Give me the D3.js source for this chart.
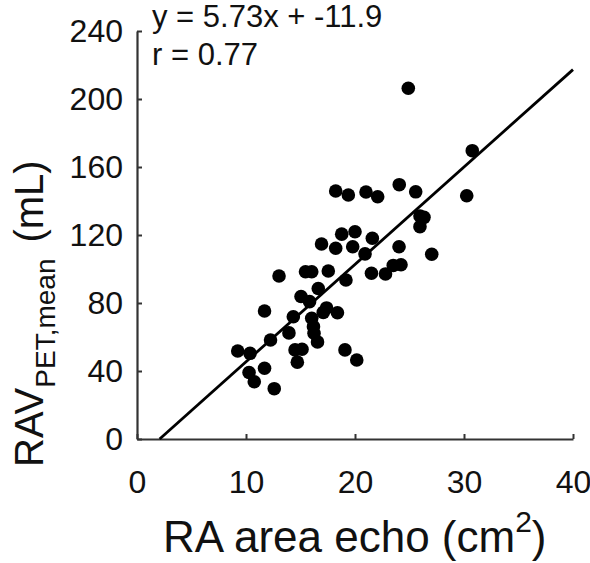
<!DOCTYPE html>
<html><head><meta charset="utf-8">
<script src="https://cdn.jsdelivr.net/npm/d3@7"></script>
<style>
html,body{margin:0;padding:0;background:#fff;}
text{font-family:"Liberation Sans",Arial,Helvetica,sans-serif;fill:#111;}
</style></head>
<body>
<svg id="c" width="590" height="563"></svg>
<script>
const xTicks = [0, 10, 20, 30, 40];
const yTicks = [0, 40, 80, 120, 160, 200, 240];
const raArea = [9.24,10.37,10.28,10.76,11.70,12.59,11.70,12.25,13.03,13.94,14.34,14.50,15.14,14.71,15.05,15.83,15.46,16.03,16.63,16.03,16.19,16.24,16.56,17.09,17.39,17.55,18.39,19.17,19.08,20.16,16.93,18.23,19.79,20.92,18.78,20.00,21.59,21.51,22.80,23.51,24.22,24.04,27.04,18.23,19.39,21.01,22.08,24.06,25.57,25.96,26.33,25.96,30.25,30.76,24.89];
const ravPet = [51.8,50.4,39.1,33.7,41.6,29.6,75.3,58.2,95.9,62.4,71.9,52.4,52.8,45.2,83.8,80.8,98.4,98.4,88.5,71.0,66.1,62.2,57.1,74.5,77.1,98.8,74.3,93.5,52.4,46.5,114.7,112.2,113.1,108.9,120.5,121.9,118.1,97.5,97.1,102.1,102.5,113.1,108.7,145.9,143.5,145.3,142.5,149.6,145.4,131.2,130.4,124.9,143.1,169.6,206.3];
const fitSlope = 5.73;
const fitIntercept = -11.9;
const fitR = 0.77;

const svg = d3.select("#c");
const x = d3.scaleLinear().domain([0, 40]).range([137, 573]);
const y = d3.scaleLinear().domain([0, 240]).range([439, 31]);

const xAxis = svg.append("g").attr("transform", "translate(0,439)")
  .call(d3.axisBottom(x).tickValues(xTicks).tickSizeInner(-5).tickSizeOuter(0).tickPadding(31));
const yAxis = svg.append("g").attr("transform", "translate(137,0)")
  .call(d3.axisLeft(y).tickValues(yTicks).tickSizeInner(-5).tickSizeOuter(0).tickPadding(14));
[xAxis, yAxis].forEach(g => {
  g.select(".domain").attr("stroke", "#333").attr("stroke-width", 2.2);
  g.selectAll(".tick line").attr("stroke", "#333").attr("stroke-width", 2);
  g.selectAll(".tick text").attr("font-size", 32).attr("fill", "#111")
    .style("font-family", '"Liberation Sans",Arial,sans-serif');
});

// regression line
const x0 = -fitIntercept / fitSlope;
svg.append("line")
  .attr("x1", x(x0)).attr("y1", y(fitSlope * x0 + fitIntercept))
  .attr("x2", x(40)).attr("y2", y(fitSlope * 40 + fitIntercept))
  .attr("stroke", "#000").attr("stroke-width", 2.8);

svg.append("g").selectAll("circle").data(raArea.map((v, i) => [v, ravPet[i]]))
  .join("circle").attr("cx", d => x(d[0])).attr("cy", d => y(d[1])).attr("r", 6.8).attr("fill", "#000");

svg.append("text").attr("x", 152).attr("y", 27).attr("font-size", 31)
  .text(`y = ${fitSlope}x + ${fitIntercept}`);
svg.append("text").attr("x", 152).attr("y", 65).attr("font-size", 31)
  .text(`r = ${fitR}`);

// x title
const xt = svg.append("text").attr("x", 163).attr("y", 552).attr("font-size", 44);
xt.append("tspan").text("RA area echo (cm");
xt.append("tspan").attr("font-size", 30).attr("dy", -20).text("2");
xt.append("tspan").attr("dy", 20).text(")");

// y title
const yt = svg.append("text").attr("transform", "translate(43,467) rotate(-90)").attr("font-size", 40);
yt.append("tspan").text("RAV");
yt.append("tspan").attr("font-size", 28).attr("dy", 12).text("PET,mean");
yt.append("tspan").attr("dy", -12).attr("dx", 16).text("(mL)");
</script>
</body></html>
